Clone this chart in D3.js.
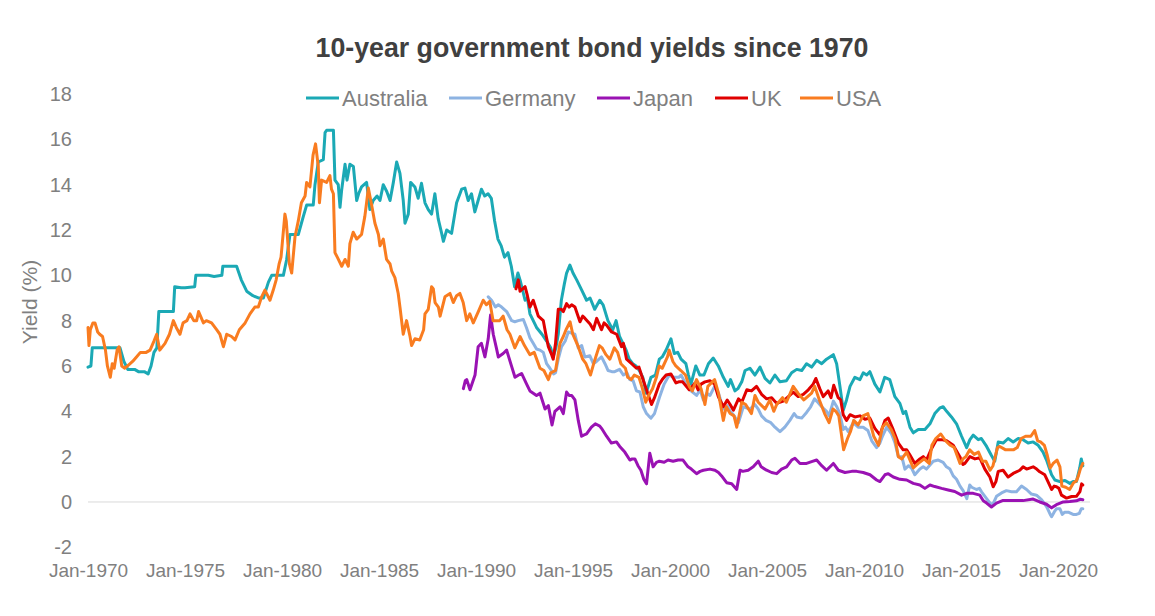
<!DOCTYPE html>
<html><head><meta charset="utf-8">
<script src="https://cdn.jsdelivr.net/npm/d3@7"></script>
<style>body{margin:0;background:#fff}svg{display:block}text{font-family:"Liberation Sans",Arial,sans-serif}</style>
</head><body><svg id="c" width="1155" height="616"></svg>
<script>
const title = "10-year government bond yields since 1970";
const seriesNames = ["Australia","Germany","Japan","UK","USA"];
const seriesColors = ["#1BA9B5","#8DB3E2","#9A12B3","#E00000","#F97C20"];
const xTicks = [1970,1975,1980,1985,1990,1995,2000,2005,2010,2015,2020];
const xTickLabels = ["Jan-1970","Jan-1975","Jan-1980","Jan-1985","Jan-1990","Jan-1995","Jan-2000","Jan-2005","Jan-2010","Jan-2015","Jan-2020"];
const yTicks = [-2,0,2,4,6,8,10,12,14,16,18];
const yTickLabels = ["-2","0","2","4","6","8","10","12","14","16","18"];

// [decimal year, yield %]
const australia = [[1970.00,5.95],[1970.15,6.0],[1970.22,6.8],[1970.6,6.8],[1971.0,6.8],[1971.4,6.8],[1971.65,6.8],[1971.85,6.2],[1972.05,5.85],[1972.4,5.85],[1972.6,5.75],[1972.9,5.75],[1973.1,5.65],[1973.25,6.0],[1973.4,6.6],[1973.55,6.8],[1973.65,8.4],[1974.0,8.4],[1974.4,8.4],[1974.47,9.5],[1974.8,9.45],[1975.0,9.45],[1975.5,9.5],[1975.56,10.0],[1976.2,10.0],[1976.5,9.95],[1976.9,10.0],[1976.95,10.4],[1977.66,10.4],[1977.9,9.8],[1978.18,9.3],[1978.5,9.1],[1978.78,9.0],[1979.04,9.0],[1979.3,9.7],[1979.47,10.0],[1980.07,10.0],[1980.24,10.7],[1980.41,11.8],[1980.84,11.8],[1981.1,12.6],[1981.27,13.1],[1981.61,13.1],[1981.7,14.0],[1981.87,15.0],[1982.13,15.1],[1982.22,16.3],[1982.3,16.4],[1982.65,16.4],[1982.73,14.2],[1982.9,14.0],[1982.99,13.0],[1983.08,13.8],[1983.25,14.9],[1983.35,14.2],[1983.5,14.9],[1983.68,14.8],[1983.85,13.3],[1983.95,13.6],[1984.1,13.9],[1984.36,14.1],[1984.53,12.9],[1984.7,13.3],[1984.9,13.5],[1985.05,13.3],[1985.22,14.0],[1985.4,13.7],[1985.57,13.3],[1985.74,14.1],[1985.91,15.0],[1986.08,14.5],[1986.25,13.3],[1986.34,12.3],[1986.51,12.7],[1986.63,14.1],[1986.85,13.9],[1987.02,13.4],[1987.19,14.06],[1987.37,13.2],[1987.54,12.9],[1987.71,12.7],[1987.88,13.6],[1988.05,12.5],[1988.23,11.85],[1988.32,11.5],[1988.49,12.0],[1988.74,11.85],[1989.0,13.2],[1989.26,13.8],[1989.43,13.85],[1989.6,13.3],[1989.77,13.6],[1989.94,12.8],[1990.11,13.3],[1990.28,13.8],[1990.45,13.5],[1990.62,13.6],[1990.79,13.4],[1990.96,12.4],[1991.13,11.6],[1991.3,11.3],[1991.47,10.8],[1991.65,11.0],[1991.82,10.4],[1991.99,9.5],[1992.16,10.1],[1992.27,9.8],[1992.53,8.9],[1992.65,9.0],[1992.78,8.3],[1992.95,8.0],[1993.12,7.7],[1993.4,7.4],[1993.64,7.1],[1993.85,6.8],[1993.98,6.4],[1994.12,6.8],[1994.24,7.4],[1994.4,8.9],[1994.55,9.6],[1994.67,10.1],[1994.84,10.45],[1995.0,10.1],[1995.19,9.8],[1995.45,9.35],[1995.7,8.9],[1995.88,9.0],[1996.12,8.5],[1996.38,8.9],[1996.55,8.7],[1996.8,8.0],[1997.05,7.6],[1997.22,8.0],[1997.4,7.3],[1997.74,6.7],[1997.9,6.3],[1998.08,6.1],[1998.25,6.0],[1998.42,5.8],[1998.6,5.5],[1998.77,4.8],[1999.02,5.5],[1999.25,5.6],[1999.45,6.3],[1999.6,6.4],[1999.8,6.7],[2000.05,7.2],[2000.22,6.55],[2000.4,6.6],[2000.57,6.3],[2000.82,6.1],[2000.95,5.6],[2001.08,5.2],[2001.33,6.0],[2001.54,5.6],[2001.75,5.6],[2001.98,6.1],[2002.23,6.35],[2002.49,6.0],[2002.75,5.5],[2003.0,5.1],[2003.12,5.4],[2003.35,4.9],[2003.5,5.0],[2003.7,5.3],[2003.87,5.8],[2004.12,5.9],[2004.38,5.6],[2004.64,5.95],[2004.9,5.45],[2005.15,5.25],[2005.41,5.6],[2005.67,5.3],[2006.0,5.35],[2006.27,5.7],[2006.53,5.85],[2006.79,5.8],[2007.04,6.1],[2007.3,5.95],[2007.56,6.25],[2007.82,6.1],[2008.07,6.3],[2008.42,6.5],[2008.59,6.1],[2008.76,5.1],[2008.93,4.05],[2009.1,4.5],[2009.28,5.1],[2009.53,5.5],[2009.79,5.4],[2009.96,5.7],[2010.14,5.6],[2010.3,5.75],[2010.56,5.2],[2010.82,4.85],[2011.07,5.5],[2011.33,5.4],[2011.59,4.65],[2011.85,4.35],[2012.02,3.9],[2012.15,4.0],[2012.37,3.3],[2012.54,3.05],[2012.8,3.2],[2013.14,3.2],[2013.4,3.45],[2013.65,3.9],[2013.91,4.15],[2014.08,4.2],[2014.26,4.0],[2014.51,3.75],[2014.77,3.45],[2015.03,2.9],[2015.29,2.4],[2015.46,2.75],[2015.63,2.95],[2015.89,2.75],[2016.05,2.8],[2016.32,2.45],[2016.57,2.05],[2016.74,1.8],[2016.92,2.65],[2017.17,2.6],[2017.43,2.8],[2017.69,2.65],[2017.95,2.8],[2018.2,2.75],[2018.46,2.6],[2018.72,2.65],[2018.98,2.5],[2019.23,2.2],[2019.41,1.85],[2019.67,1.2],[2019.84,0.97],[2020.1,0.9],[2020.36,0.95],[2020.61,0.82],[2020.78,0.9],[2020.95,0.9],[2021.12,1.5],[2021.2,1.9],[2021.28,1.6]];

const germany = [[1990.63,9.05],[1990.8,8.9],[1991.0,8.6],[1991.15,8.7],[1991.32,8.6],[1991.58,8.4],[1991.84,8.0],[1992.0,7.95],[1992.18,8.0],[1992.44,8.05],[1992.6,7.7],[1992.78,7.25],[1992.95,7.0],[1993.12,6.75],[1993.3,6.7],[1993.47,6.6],[1993.64,6.1],[1993.81,5.9],[1994.0,5.65],[1994.1,5.7],[1994.24,6.3],[1994.41,6.85],[1994.6,7.1],[1994.76,7.5],[1994.93,7.45],[1995.1,7.4],[1995.27,6.8],[1995.45,6.9],[1995.61,6.4],[1995.87,6.45],[1996.05,6.1],[1996.21,6.2],[1996.47,6.4],[1996.65,6.1],[1996.81,5.8],[1997.0,5.75],[1997.15,5.75],[1997.4,5.85],[1997.6,5.6],[1997.78,5.7],[1997.93,5.4],[1998.1,5.35],[1998.27,4.9],[1998.45,4.85],[1998.62,4.2],[1998.79,3.9],[1998.9,3.8],[1999.02,3.7],[1999.2,3.9],[1999.45,4.6],[1999.7,5.2],[1999.96,5.6],[2000.22,5.5],[2000.45,5.5],[2000.57,5.6],[2000.82,5.2],[2001.08,4.9],[2001.37,4.7],[2001.55,4.95],[2001.72,4.5],[2001.9,4.8],[2002.06,4.7],[2002.3,5.1],[2002.5,4.8],[2002.75,4.1],[2002.95,4.25],[2003.1,4.0],[2003.27,3.85],[2003.45,3.6],[2003.53,3.5],[2003.78,4.2],[2004.12,4.1],[2004.38,4.3],[2004.55,4.1],[2004.72,3.8],[2004.95,3.6],[2005.2,3.5],[2005.41,3.3],[2005.67,3.1],[2005.92,3.3],[2006.18,3.6],[2006.4,3.9],[2006.53,3.75],[2006.79,3.7],[2007.04,3.95],[2007.25,4.2],[2007.45,4.55],[2007.56,4.45],[2007.82,4.2],[2008.07,4.0],[2008.2,3.8],[2008.42,4.45],[2008.6,4.2],[2008.75,3.9],[2008.93,3.2],[2009.05,3.3],[2009.19,3.1],[2009.45,3.5],[2009.7,3.3],[2009.96,3.3],[2010.2,3.15],[2010.4,2.7],[2010.65,2.4],[2010.82,2.6],[2010.95,2.9],[2011.17,3.3],[2011.42,3.0],[2011.6,2.6],[2011.77,2.0],[2011.95,2.0],[2012.11,1.45],[2012.3,1.6],[2012.45,1.5],[2012.62,1.2],[2012.88,1.45],[2013.05,1.55],[2013.22,1.45],[2013.57,1.8],[2013.83,1.85],[2014.08,1.75],[2014.25,1.55],[2014.43,1.45],[2014.6,1.15],[2014.77,1.0],[2014.95,0.7],[2015.11,0.5],[2015.3,0.15],[2015.45,0.75],[2015.55,0.65],[2015.8,0.55],[2015.95,0.6],[2016.06,0.45],[2016.32,0.15],[2016.57,-0.13],[2016.7,0.0],[2016.83,0.25],[2017.09,0.4],[2017.34,0.5],[2017.6,0.45],[2017.86,0.45],[2018.12,0.7],[2018.38,0.55],[2018.63,0.35],[2018.89,0.3],[2019.15,0.1],[2019.41,-0.2],[2019.6,-0.55],[2019.67,-0.65],[2019.8,-0.45],[2019.92,-0.3],[2020.1,-0.3],[2020.22,-0.55],[2020.35,-0.45],[2020.53,-0.45],[2020.78,-0.55],[2020.95,-0.55],[2021.1,-0.5],[2021.2,-0.3],[2021.28,-0.3]];

const japan = [[1989.35,5.0],[1989.45,5.35],[1989.52,5.4],[1989.69,4.95],[1989.95,5.6],[1990.11,6.85],[1990.28,7.0],[1990.46,6.4],[1990.63,7.2],[1990.75,8.25],[1990.89,7.4],[1991.05,6.8],[1991.15,6.4],[1991.4,6.55],[1991.58,6.7],[1991.84,5.97],[1992.01,5.5],[1992.2,5.6],[1992.35,5.67],[1992.61,5.2],[1992.78,4.9],[1992.95,4.8],[1993.12,4.7],[1993.3,4.8],[1993.56,4.1],[1993.73,4.25],[1993.92,3.4],[1994.07,4.0],[1994.2,4.1],[1994.33,4.2],[1994.5,3.9],[1994.67,4.85],[1994.8,4.7],[1994.93,4.7],[1995.1,4.5],[1995.27,3.6],[1995.44,2.9],[1995.55,2.95],[1995.7,3.0],[1995.95,3.3],[1996.15,3.45],[1996.38,3.35],[1996.47,3.25],[1996.73,2.9],[1996.98,2.6],[1997.24,2.65],[1997.41,2.45],[1997.67,2.2],[1997.93,1.85],[1998.05,1.9],[1998.19,1.9],[1998.35,1.6],[1998.5,1.4],[1998.65,1.0],[1998.79,0.8],[1998.96,2.15],[1999.13,1.55],[1999.3,1.75],[1999.45,1.8],[1999.7,1.75],[1999.9,1.85],[2000.16,1.8],[2000.42,1.85],[2000.67,1.85],[2000.93,1.55],[2001.1,1.45],[2001.37,1.25],[2001.55,1.35],[2001.72,1.4],[2002.06,1.45],[2002.32,1.4],[2002.5,1.3],[2002.66,1.15],[2002.92,0.85],[2003.18,0.8],[2003.44,0.55],[2003.61,1.4],[2003.75,1.35],[2004.03,1.4],[2004.29,1.55],[2004.55,1.8],[2004.7,1.55],[2004.98,1.4],[2005.24,1.3],[2005.5,1.25],[2005.75,1.45],[2006.01,1.55],[2006.27,1.85],[2006.44,1.93],[2006.7,1.7],[2007.04,1.7],[2007.3,1.78],[2007.56,1.85],[2007.82,1.6],[2008.07,1.4],[2008.42,1.7],[2008.68,1.4],[2009.02,1.3],[2009.37,1.35],[2009.62,1.35],[2009.96,1.3],[2010.31,1.2],[2010.65,0.97],[2010.82,0.9],[2011.08,1.2],[2011.25,1.25],[2011.51,1.1],[2011.85,1.0],[2012.2,0.97],[2012.54,0.82],[2012.88,0.75],[2013.14,0.6],[2013.4,0.75],[2013.65,0.68],[2014.0,0.6],[2014.34,0.53],[2014.68,0.46],[2015.03,0.3],[2015.29,0.38],[2015.63,0.38],[2015.97,0.3],[2016.15,0.05],[2016.32,-0.05],[2016.57,-0.22],[2016.83,-0.05],[2017.17,0.07],[2017.69,0.06],[2018.2,0.06],[2018.72,0.13],[2019.06,0.0],[2019.41,-0.1],[2019.67,-0.26],[2019.92,-0.12],[2020.27,0.0],[2020.61,0.02],[2020.95,0.05],[2021.15,0.12],[2021.28,0.1]];

const uk = [[1992.06,9.4],[1992.18,9.8],[1992.27,9.3],[1992.4,9.4],[1992.53,9.5],[1992.65,9.1],[1992.78,8.6],[1992.95,8.9],[1993.1,8.5],[1993.21,8.2],[1993.47,8.0],[1993.6,7.4],[1993.73,6.85],[1993.9,6.5],[1993.98,6.3],[1994.1,7.0],[1994.24,8.5],[1994.4,8.5],[1994.5,8.4],[1994.67,8.75],[1994.8,8.6],[1994.93,8.7],[1995.1,8.6],[1995.36,7.95],[1995.5,8.2],[1995.62,8.1],[1995.88,7.85],[1996.05,7.6],[1996.22,8.1],[1996.47,7.6],[1996.6,7.9],[1996.73,7.8],[1996.99,7.5],[1997.25,7.4],[1997.5,6.85],[1997.6,7.0],[1997.76,6.3],[1998.02,6.1],[1998.27,5.9],[1998.4,5.95],[1998.53,5.6],[1998.79,4.95],[1999.05,4.3],[1999.2,4.6],[1999.45,5.2],[1999.6,5.4],[1999.8,5.6],[2000.05,5.65],[2000.31,5.25],[2000.45,5.3],[2000.65,5.3],[2000.99,4.95],[2001.15,5.1],[2001.29,5.25],[2001.45,4.95],[2001.6,5.2],[2001.8,5.3],[2002.06,5.35],[2002.3,5.2],[2002.49,4.65],[2002.75,4.2],[2002.95,4.5],[2003.1,4.3],[2003.27,4.05],[2003.53,4.55],[2003.7,4.4],[2003.96,4.95],[2004.2,4.9],[2004.46,5.1],[2004.72,4.75],[2004.98,4.55],[2005.24,4.6],[2005.5,4.35],[2005.84,4.45],[2006.1,4.65],[2006.35,4.85],[2006.61,4.65],[2006.87,4.75],[2007.13,4.95],[2007.38,5.2],[2007.52,5.45],[2007.72,5.0],[2007.9,4.65],[2008.15,4.9],[2008.3,4.6],[2008.44,5.15],[2008.67,4.6],[2008.8,4.5],[2008.93,3.85],[2009.1,3.6],[2009.28,3.85],[2009.53,3.75],[2009.79,3.8],[2010.05,3.65],[2010.3,3.7],[2010.56,3.25],[2010.82,2.96],[2011.08,3.6],[2011.25,3.7],[2011.5,3.2],[2011.77,2.6],[2012.02,2.3],[2012.2,2.3],[2012.37,2.07],[2012.62,1.7],[2012.88,1.9],[2013.05,2.0],[2013.22,1.85],[2013.48,2.35],[2013.74,2.75],[2014.0,2.75],[2014.26,2.7],[2014.6,2.5],[2014.94,2.0],[2015.1,1.65],[2015.2,1.7],[2015.46,2.0],[2015.72,1.9],[2015.97,1.95],[2016.23,1.45],[2016.49,1.1],[2016.66,0.67],[2016.8,0.9],[2016.92,1.35],[2017.17,1.4],[2017.43,1.1],[2017.69,1.26],[2018.03,1.4],[2018.2,1.55],[2018.38,1.45],[2018.72,1.55],[2018.9,1.45],[2019.06,1.33],[2019.32,1.2],[2019.49,0.89],[2019.67,0.55],[2019.8,0.7],[2019.92,0.67],[2020.05,0.6],[2020.18,0.3],[2020.44,0.17],[2020.7,0.24],[2020.95,0.25],[2021.13,0.46],[2021.22,0.8],[2021.28,0.75]];

const usa = [[1970.0,7.7],[1970.05,6.9],[1970.12,7.6],[1970.25,7.9],[1970.36,7.9],[1970.5,7.5],[1970.6,7.4],[1970.75,7.3],[1970.9,6.7],[1971.0,6.0],[1971.15,5.5],[1971.25,6.1],[1971.35,5.9],[1971.5,6.7],[1971.6,6.85],[1971.74,6.0],[1971.9,5.9],[1972.1,6.05],[1972.3,6.2],[1972.5,6.4],[1972.7,6.6],[1973.0,6.6],[1973.2,6.7],[1973.4,7.1],[1973.54,7.4],[1973.7,6.7],[1973.97,7.0],[1974.2,7.4],[1974.4,8.0],[1974.55,7.7],[1974.74,7.4],[1974.9,7.9],[1975.1,8.0],[1975.26,8.3],[1975.45,8.0],[1975.6,8.0],[1975.7,8.4],[1975.95,7.9],[1976.1,8.0],[1976.37,7.9],[1976.63,7.6],[1976.8,7.4],[1976.98,6.85],[1977.15,7.4],[1977.4,7.3],[1977.58,7.15],[1977.8,7.6],[1978.1,7.9],[1978.35,8.3],[1978.6,8.6],[1978.78,8.6],[1978.95,9.05],[1979.12,9.35],[1979.38,8.9],[1979.55,9.35],[1979.7,9.8],[1979.85,10.5],[1979.95,10.8],[1980.15,12.7],[1980.22,12.4],[1980.38,10.5],[1980.5,10.1],[1980.67,11.7],[1980.84,12.4],[1981.0,13.2],[1981.19,13.5],[1981.27,14.1],[1981.44,13.9],[1981.6,15.3],[1981.73,15.8],[1981.87,14.8],[1981.93,13.2],[1982.04,14.2],[1982.3,14.1],[1982.47,14.4],[1982.55,13.8],[1982.65,13.6],[1982.73,11.0],[1982.85,10.8],[1983.08,10.4],[1983.25,10.7],[1983.42,10.4],[1983.5,11.4],[1983.67,11.9],[1983.85,11.6],[1984.1,11.8],[1984.27,12.6],[1984.36,13.2],[1984.45,13.85],[1984.62,13.1],[1984.79,12.3],[1984.97,11.8],[1985.05,11.3],[1985.22,11.6],[1985.39,10.7],[1985.57,10.5],[1985.65,10.2],[1985.82,9.9],[1985.99,9.2],[1986.08,8.6],[1986.25,7.4],[1986.42,8.0],[1986.6,7.3],[1986.68,6.9],[1986.85,7.2],[1987.1,7.15],[1987.3,7.6],[1987.37,8.3],[1987.54,8.5],[1987.71,9.5],[1987.8,9.4],[1987.89,8.8],[1988.06,8.6],[1988.15,8.2],[1988.4,9.05],[1988.66,9.2],[1988.83,8.8],[1989.0,9.1],[1989.17,9.2],[1989.34,8.8],[1989.52,8.0],[1989.68,8.3],[1989.86,7.9],[1990.12,8.4],[1990.37,8.9],[1990.54,8.7],[1990.71,8.85],[1990.88,8.0],[1991.22,8.0],[1991.4,8.2],[1991.6,7.6],[1991.75,7.4],[1992.0,6.8],[1992.27,7.3],[1992.5,6.9],[1992.78,6.5],[1993.0,6.6],[1993.3,5.9],[1993.5,5.8],[1993.73,5.4],[1993.85,5.7],[1994.1,5.8],[1994.33,7.0],[1994.5,7.3],[1994.64,7.6],[1994.85,7.95],[1994.99,7.4],[1995.25,6.9],[1995.5,6.3],[1995.67,6.1],[1995.9,5.6],[1996.1,6.2],[1996.36,6.9],[1996.5,6.8],[1996.7,6.5],[1996.9,6.3],[1997.13,6.8],[1997.3,6.6],[1997.47,6.1],[1997.7,5.9],[1997.82,5.5],[1998.0,5.4],[1998.16,5.6],[1998.4,5.5],[1998.58,5.0],[1998.75,4.4],[1998.9,4.7],[1999.1,5.0],[1999.3,5.5],[1999.44,6.0],[1999.6,5.9],[1999.87,6.4],[1999.96,6.7],[2000.15,6.2],[2000.3,6.0],[2000.56,5.8],[2000.8,5.6],[2000.99,5.1],[2001.15,4.9],[2001.37,5.4],[2001.6,5.0],[2001.8,4.3],[2001.95,5.1],[2002.3,5.4],[2002.5,4.8],[2002.75,3.6],[2002.9,4.2],[2003.1,3.9],[2003.3,3.8],[2003.44,3.3],[2003.7,4.4],[2003.9,4.3],[2004.2,3.9],[2004.38,4.7],[2004.55,4.4],[2004.9,4.1],[2005.15,4.5],[2005.35,4.0],[2005.5,4.3],[2005.8,4.6],[2006.0,4.4],[2006.35,5.1],[2006.6,4.8],[2006.9,4.5],[2007.3,4.8],[2007.46,5.1],[2007.7,4.5],[2007.97,3.9],[2008.2,3.5],[2008.4,4.1],[2008.55,4.0],[2008.7,3.8],[2008.95,2.3],[2009.15,2.8],[2009.3,3.1],[2009.47,3.6],[2009.7,3.4],[2009.95,3.8],[2010.2,3.9],[2010.5,2.9],[2010.75,2.5],[2010.95,3.3],[2011.15,3.5],[2011.4,3.2],[2011.6,2.8],[2011.77,2.0],[2011.95,1.9],[2012.2,2.2],[2012.54,1.5],[2012.8,1.7],[2013.1,1.9],[2013.36,1.7],[2013.5,2.5],[2013.7,2.8],[2013.96,3.0],[2014.2,2.7],[2014.45,2.5],[2014.65,2.4],[2014.95,1.7],[2015.1,1.9],[2015.25,2.0],[2015.45,2.3],[2015.68,2.1],[2015.9,2.2],[2016.1,1.8],[2016.28,1.8],[2016.5,1.4],[2016.65,1.6],[2016.88,2.4],[2017.0,2.45],[2017.3,2.3],[2017.5,2.3],[2017.7,2.3],[2017.9,2.4],[2018.1,2.8],[2018.33,2.9],[2018.6,2.9],[2018.8,3.15],[2018.95,2.7],[2019.1,2.65],[2019.3,2.5],[2019.45,2.05],[2019.6,1.5],[2019.75,1.7],[2019.95,1.85],[2020.1,1.55],[2020.2,0.7],[2020.4,0.65],[2020.6,0.55],[2020.8,0.85],[2020.95,0.93],[2021.05,1.15],[2021.15,1.45],[2021.28,1.7]];

const seriesData = [australia, germany, japan, uk, usa];

const svg = d3.select("#c");
const x = d3.scaleLinear().domain([1970, 2021.65]).range([88, 1090]);
const y = d3.scaleLinear().domain([-2, 18]).range([547.3, 94]);

// title
svg.append("text").attr("x", 592).attr("y", 57).attr("text-anchor", "middle")
  .attr("font-size", 28).attr("font-weight", "bold").attr("fill", "#404040")
  .attr("textLength", 553).attr("lengthAdjust", "spacingAndGlyphs").text(title);

// zero line
svg.append("line").attr("x1", x(1970)).attr("x2", x.range()[1])
  .attr("y1", y(0)).attr("y2", y(0)).attr("stroke", "#D9D9D9").attr("stroke-width", 1);

// y axis
const ya = svg.append("g").attr("transform", "translate(72,0)")
  .call(d3.axisLeft(y).tickValues(yTicks).tickSize(0).tickPadding(0).tickFormat((d, i) => yTickLabels[i]));
ya.select(".domain").remove();
ya.selectAll("text").attr("font-size", 20).attr("fill", "#808080").attr("font-family", "'Liberation Sans',Arial,sans-serif");

// x axis
const xa = svg.append("g").attr("transform", "translate(0,560)")
  .call(d3.axisBottom(x).tickValues(xTicks).tickSize(0).tickPadding(3).tickFormat((d, i) => xTickLabels[i]));
xa.select(".domain").remove();
xa.selectAll("text").attr("font-size", 19).attr("fill", "#808080").attr("font-family", "'Liberation Sans',Arial,sans-serif");

// y title
svg.append("text").attr("transform", "translate(37,302) rotate(-90)").attr("text-anchor", "middle")
  .attr("font-size", 21).attr("fill", "#808080").text("Yield (%)");

// lines
const line = d3.line().x(d => x(d[0])).y(d => y(d[1]));
seriesData.forEach((s, i) => {
  svg.append("path").datum(s).attr("d", line).attr("fill", "none")
    .attr("stroke", seriesColors[i]).attr("stroke-width", 3)
    .attr("stroke-linejoin", "round").attr("stroke-linecap", "round");
});

// legend
const legendX = [306, 449, 597, 715, 800];
const lg = svg.append("g");
seriesNames.forEach((n, i) => {
  lg.append("line").attr("x1", legendX[i]).attr("x2", legendX[i] + 33)
    .attr("y1", 98).attr("y2", 98).attr("stroke", seriesColors[i]).attr("stroke-width", 3);
  lg.append("text").attr("x", legendX[i] + 36).attr("y", 105.5).attr("font-size", 22)
    .attr("fill", "#808080").text(n);
});
</script></body></html>
